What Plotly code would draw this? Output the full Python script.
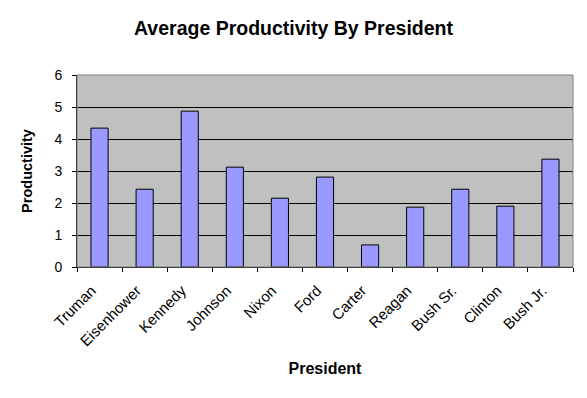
import plotly.graph_objects as go

presidents = ["Truman", "Eisenhower", "Kennedy", "Johnson", "Nixon", "Ford",
              "Carter", "Reagan", "Bush Sr.", "Clinton", "Bush Jr."]
productivity = [4.34, 2.43, 4.87, 3.12, 2.15, 2.81, 0.69, 1.87, 2.43, 1.90, 3.37]
y_ticks = [0, 1, 2, 3, 4, 5, 6]

fig = go.Figure(go.Bar(
    x=presidents, y=productivity,
    marker=dict(color="#9999FF", line=dict(color="black", width=1)),
    hoverinfo="x+y",
))

font = "Liberation Sans, Arial, sans-serif"
fig.update_layout(
    width=587, height=398,
    margin=dict(l=77, r=14, t=75, b=131),
    paper_bgcolor="white", plot_bgcolor="#C0C0C0",
    bargap=0.62,
    showlegend=False,
    title=dict(text="<b>Average Productivity By President</b>", x=0.5, xanchor="center",
               y=1 - 28 / 398, yanchor="middle", font=dict(family=font, size=19.5, color="black")),
    xaxis=dict(
        automargin=False,
        title=dict(text="<b>President</b>", font=dict(family=font, size=16, color="black"), standoff=14),
        tickangle=-45, tickfont=dict(family=font, size=15, color="black"),
        ticks="outside", ticklen=4, tickcolor="black", tickson="boundaries",
        ticklabelstandoff=8, ticklabelshift=-8,
        showline=True, linecolor="black", linewidth=1, showgrid=False,
    ),
    yaxis=dict(
        automargin=False,
        title=dict(text="<b>Productivity</b>", font=dict(family=font, size=14.5, color="black"), standoff=18),
        range=[0, 6], tickvals=y_ticks, tickfont=dict(family=font, size=14, color="black"),
        ticks="outside", ticklen=4, tickcolor="black", ticklabelstandoff=7,
        showline=True, linecolor="black", linewidth=1,
        showgrid=True, gridcolor="black", gridwidth=1, zeroline=False,
    ),
    shapes=[dict(type="rect", xref="paper", yref="paper", x0=0, x1=1, y0=0, y1=1,
                 line=dict(color="#808080", width=1), layer="above")],
)
fig.write_html("out.html", config={"displayModeBar": False},
               post_script="document.body.style.margin='0';document.body.style.overflow='hidden';")
